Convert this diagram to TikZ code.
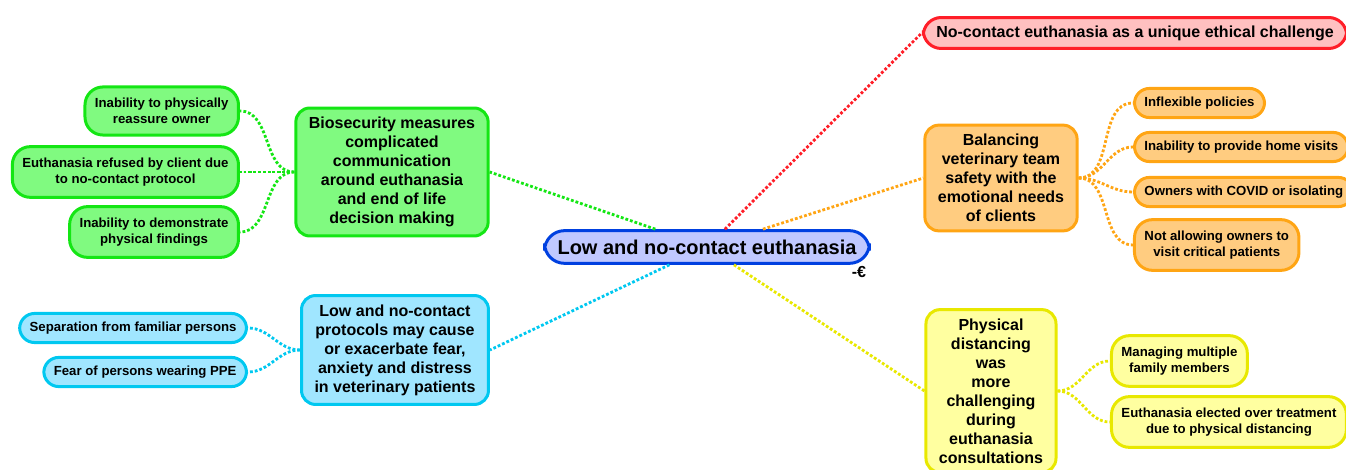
\documentclass[tikz,border=0pt]{standalone}
\usepackage{fontspec}
\setmainfont{Liberation Sans}
\usepackage{tikz}

\definecolor{rootfill}{RGB}{192,200,255}
\definecolor{rootline}{RGB}{0,64,224}
\definecolor{grnfill}{RGB}{128,250,128}
\definecolor{grnline}{RGB}{20,230,20}
\definecolor{cyfill}{RGB}{160,230,255}
\definecolor{cyline}{RGB}{0,200,240}
\definecolor{redfill}{RGB}{255,192,192}
\definecolor{redline}{RGB}{255,30,40}
\definecolor{orfill}{RGB}{255,204,128}
\definecolor{orline}{RGB}{255,165,20}
\definecolor{yelfill}{RGB}{255,255,160}
\definecolor{yelline}{RGB}{232,232,0}

\tikzset{
  rootbox/.style={draw=rootline,fill=rootfill,line width=1.5pt,rounded corners=10pt,
    inner xsep=6.5pt,inner ysep=4.5pt,font=\fontsize{10}{12}\selectfont\bfseries},
  topic/.style={draw=#1line,fill=#1fill,line width=1.5pt,rounded corners=7pt,align=center,
    inner xsep=6.5pt,inner ysep=4.5pt,font=\fontsize{8}{9.5}\selectfont\bfseries},
  leaf/.style={draw=#1line,fill=#1fill,line width=1.5pt,rounded corners=7.5pt,align=center,
    inner xsep=5pt,inner ysep=4.2pt,font=\fontsize{6.6}{8}\selectfont\bfseries},
  twoline/.style={inner ysep=5.6pt,rounded corners=9pt},
  link/.style={draw=#1line,densely dotted,line width=1.4pt},
}

\begin{document}
\begin{tikzpicture}[node distance=20pt]
      \useasboundingbox (-353.5pt,-111.5pt) rectangle (319.5pt,123.5pt);
      \node[rootbox] (c) at (0,0) {Low and no-contact euthanasia};
      \node[right of=c,xshift=56pt,yshift=-12.5pt,font=\fontsize{8}{8}\selectfont\bfseries] (fold) {-€};
      %% Main branches
      \node[topic=red,rounded corners=9pt,inner ysep=4pt,right of=c,xshift=194pt,yshift=107pt] (r) {No-contact euthanasia as a unique ethical challenge};
      \node[topic=or,right of=c,xshift=127pt,yshift=34.5pt] (o) {Balancing\\veterinary team\\safety with the\\emotional needs\\of clients};
      \node[topic=yel,right of=c,xshift=122pt,yshift=-72pt] (y) {Physical\\distancing\\was\\more\\challenging\\during\\euthanasia\\consultations};
      \node[topic=grn,left of=c,xshift=-137.5pt,yshift=37.5pt] (g) {Biosecurity measures\\complicated\\communication\\around euthanasia\\and end of life\\decision making};
      \node[topic=cy,left of=c,xshift=-136pt,yshift=-51.5pt] (b) {Low and no-contact\\protocols may cause\\or exacerbate fear,\\anxiety and distress\\in veterinary patients};
      %% Orange leaves
      \node[leaf=or,right of=o,xshift=46pt,yshift=37.5pt,anchor=west] (o1) {Inflexible policies};
      \node[leaf=or,right of=o,xshift=46pt,yshift=15.5pt,anchor=west] (o2) {Inability to provide home visits};
      \node[leaf=or,right of=o,xshift=46pt,yshift=-7pt,anchor=west] (o3) {Owners with COVID or isolating};
      \node[leaf=or,twoline,right of=o,xshift=46pt,yshift=-33.5pt,anchor=west] (o4) {Not allowing owners to\\visit critical patients};
      %% Yellow leaves
      \node[leaf=yel,twoline,right of=y,xshift=39.5pt,yshift=15pt,anchor=west] (y1) {Managing multiple\\family members};
      \node[leaf=yel,twoline,right of=y,xshift=39.5pt,yshift=-15.5pt,anchor=west] (y2) {Euthanasia elected over treatment\\due to physical distancing};
      %% Green leaves
      \node[leaf=grn,twoline,left of=g,xshift=-56pt,yshift=30.5pt,anchor=east] (g1) {Inability to physically\\reassure owner};
      \node[leaf=grn,twoline,left of=g,xshift=-56pt,anchor=east] (g2) {Euthanasia refused by client due\\to no-contact protocol};
      \node[leaf=grn,twoline,left of=g,xshift=-56pt,yshift=-30pt,anchor=east] (g3) {Inability to demonstrate\\physical findings};
      %% Cyan leaves
      \node[leaf=cy,left of=b,xshift=-53.5pt,yshift=11pt,anchor=east] (b1) {Separation from familiar persons};
      \node[leaf=cy,left of=b,xshift=-53.5pt,yshift=-11pt,anchor=east] (b2) {Fear of persons wearing PPE};
      %% Links from the root
      \draw[link=red] (c) -- (r.west);
      \draw[link=or] (c) -- (o.west);
      \draw[link=yel] (c) -- (y.west);
      \draw[link=grn] (c) -- (g.east);
      \draw[link=cy] (c) -- (b.east);
      %% Links to the leaves
      \foreach \k in {o1,o2,o3,o4}
        \draw[link=or] (o.east) to[out=0,in=180] (\k.west);
      \foreach \k in {y1,y2}
        \draw[link=yel] (y.east) to[out=0,in=180] (\k.west);
      \foreach \k in {g1,g2,g3}
        \draw[link=grn] (g.west) to[out=180,in=0] (\k.east);
      \foreach \k in {b1,b2}
        \draw[link=cy] (b.west) to[out=180,in=0] (\k.east);
\end{tikzpicture}
\end{document}
